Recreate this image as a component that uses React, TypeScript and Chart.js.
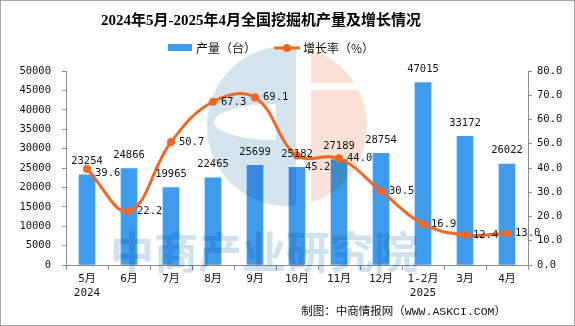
import { useEffect, useRef } from 'react';
import Chart from 'chart.js/auto';

const categories: (string | string[])[] = [['5月', '2024'], '6月', '7月', '8月', '9月', '10月', '11月', '12月', ['1-2月', '2025'], '3月', '4月'];
const output = [23254, 24866, 19965, 22465, 25699, 25182, 27189, 28754, 47015, 33172, 26022];
const growth = [39.6, 22.2, 50.7, 67.3, 69.1, 45.2, 44.0, 30.5, 16.9, 12.4, 13.0];
const leftMax = 50000;
const leftStep = 5000;
const rightMax = 80;
const rightStep = 10;

const TITLE = '2024年5月-2025年4月全国挖掘机产量及增长情况';
const SERIES_BAR = '产量（台）';
const SERIES_LINE = '增长率（%）';
const SOURCE = '制图：中商情报网（WWW.ASKCI.COM）';
const WATERMARK = '中商产业研究院';

const BAR_COLOR = '#3e9cee';
const LINE_COLOR = '#f4661f';
const AXIS_COLOR = '#8c8c8c';
const TEXT_COLOR = '#111111';
const MONO = '"DejaVu Sans Mono", "Noto Sans CJK SC", sans-serif';
const CJK = '"Noto Sans CJK SC", sans-serif';

function drawWatermark(ctx: CanvasRenderingContext2D) {
  ctx.save();
  ctx.globalCompositeOperation = 'multiply';
  const cx = 287, cy = 126, r = 80;
  // blue "C"
  ctx.save();
  ctx.beginPath();
  ctx.rect(0, 0, 296, 326);
  ctx.clip();
  ctx.beginPath();
  ctx.arc(cx, cy, r, 0, Math.PI * 2);
  ctx.moveTo(276, 104);
  ctx.ellipse(276, 122, 62, 18, 0, -Math.PI / 2, Math.PI / 2, true);
  ctx.closePath();
  ctx.fillStyle = '#d4e4ef';
  ctx.fill('evenodd');
  ctx.restore();
  // salmon half
  ctx.save();
  ctx.beginPath();
  ctx.arc(cx, cy, r, 0, Math.PI * 2);
  ctx.clip();
  ctx.fillStyle = '#fbe1d6';
  ctx.fillRect(311, 40, 70, 43);
  ctx.fillRect(311, 90, 70, 130);
  ctx.restore();
  // text
  ctx.font = `bold 44px ${CJK}`;
  ctx.fillStyle = '#cfe0ee';
  ctx.textAlign = 'left';
  ctx.textBaseline = 'middle';
  ctx.fillText(WATERMARK, 110, 252);
  ctx.restore();
}

const decorPlugin = {
  id: 'decor',
  beforeDraw(chart: any) {
    const ctx = chart.ctx as CanvasRenderingContext2D;
    ctx.save();
    ctx.fillStyle = '#ffffff';
    ctx.fillRect(0, 0, chart.width, chart.height);
    ctx.restore();
  },
  afterDatasetDraw(chart: any, args: any) {
    if (args.index === 0) drawWatermark(chart.ctx);
  },
  afterDatasetsDraw(chart: any) {
    const ctx = chart.ctx as CanvasRenderingContext2D;
    ctx.save();
    ctx.fillStyle = TEXT_COLOR;
    ctx.font = `10.5px ${MONO}`;
    const barMeta = chart.getDatasetMeta(0);
    ctx.textAlign = 'center';
    ctx.textBaseline = 'middle';
    barMeta.data.forEach((el: any, i: number) => {
      ctx.fillText(String(output[i]), el.x, el.y - 13.5);
    });
    const lineMeta = chart.getDatasetMeta(1);
    ctx.textAlign = 'left';
    const nudge: Record<number, number> = { 0: 4, 5: 12 };
    lineMeta.data.forEach((el: any, i: number) => {
      ctx.fillText(growth[i].toFixed(1), el.x + 8, el.y + (nudge[i] || 0));
    });
    ctx.restore();
  },
  afterDraw(chart: any) {
    const ctx = chart.ctx as CanvasRenderingContext2D;
    ctx.save();
    // title
    ctx.fillStyle = '#000';
    ctx.font = `bold 15px "Liberation Serif", ${CJK}`;
    ctx.textAlign = 'center';
    ctx.textBaseline = 'middle';
    ctx.fillText(TITLE, 261, 21);
    // legend
    ctx.fillStyle = BAR_COLOR;
    ctx.fillRect(168, 44, 24, 7);
    ctx.fillStyle = TEXT_COLOR;
    ctx.font = `12px ${CJK}`;
    ctx.textAlign = 'left';
    ctx.fillText(SERIES_BAR, 196, 48);
    ctx.strokeStyle = LINE_COLOR;
    ctx.lineWidth = 3;
    ctx.beginPath();
    ctx.moveTo(274, 48);
    ctx.lineTo(300, 48);
    ctx.stroke();
    ctx.fillStyle = LINE_COLOR;
    ctx.beginPath();
    ctx.arc(287, 48, 4, 0, Math.PI * 2);
    ctx.fill();
    ctx.fillStyle = TEXT_COLOR;
    ctx.fillText(SERIES_LINE, 303, 48);
    // source
    ctx.font = `11.5px "Liberation Mono", ${CJK}`;
    ctx.textAlign = 'right';
    ctx.fillText(SOURCE, 506, 312);
    // border
    ctx.strokeStyle = '#a6a6a6';
    ctx.lineWidth = 1;
    ctx.strokeRect(0.5, 0.5, chart.width - 1, chart.height - 1);
    ctx.restore();
  },
};

export default function App() {
  const ref = useRef<HTMLCanvasElement>(null);
  useEffect(() => {
    if (!ref.current) return;
    const tickFont = { family: MONO, size: 10.5 };
    const chart = new Chart(ref.current, {
      type: 'bar',
      data: {
        labels: categories as any,
        datasets: [
          {
            type: 'bar',
            label: SERIES_BAR,
            data: output,
            backgroundColor: BAR_COLOR,
            barThickness: 16,
            yAxisID: 'y',
            order: 1,
          } as any,
          {
            type: 'line',
            label: SERIES_LINE,
            data: growth,
            borderColor: LINE_COLOR,
            backgroundColor: LINE_COLOR,
            borderWidth: 3,
            pointRadius: 4,
            pointBorderWidth: 0,
            pointBackgroundColor: LINE_COLOR,
            tension: 0.4,
            yAxisID: 'y1',
            order: 0,
          } as any,
        ],
      },
      options: {
        responsive: false,
        animation: false,
        devicePixelRatio: 1,
        events: [],
        layout: { padding: { top: 71, left: 0, right: 0, bottom: 0 } },
        plugins: { legend: { display: false }, tooltip: { enabled: false }, title: { display: false } },
        scales: {
          x: {
            grid: { drawOnChartArea: false, drawTicks: true, tickLength: 5, color: AXIS_COLOR, offset: true },
            border: { color: AXIS_COLOR },
            ticks: { font: { family: MONO, size: 11, lineHeight: 1.2 }, color: TEXT_COLOR, padding: 3, maxRotation: 0, autoSkip: false },
            afterFit: (s: any) => { s.height = 61; },
          },
          y: {
            position: 'left',
            min: 0,
            max: leftMax,
            grid: { drawOnChartArea: false, drawTicks: true, tickLength: 4, color: AXIS_COLOR },
            border: { color: AXIS_COLOR },
            ticks: { stepSize: leftStep, font: tickFont, color: TEXT_COLOR, padding: 11, callback: (v: any) => String(v) },
            afterFit: (s: any) => { s.width = 66; },
          },
          y1: {
            position: 'right',
            min: 0,
            max: rightMax,
            grid: { drawOnChartArea: false, drawTicks: true, tickLength: 4, color: AXIS_COLOR },
            border: { color: AXIS_COLOR },
            ticks: { stepSize: rightStep, font: tickFont, color: TEXT_COLOR, padding: 5, callback: (v: any) => Number(v).toFixed(1) },
            afterFit: (s: any) => { s.width = 47; },
          },
        },
      } as any,
      plugins: [decorPlugin],
    });
    return () => chart.destroy();
  }, []);
  return (
    <div style={{ position: 'fixed', left: 0, top: 0, width: 575, height: 326 }}>
      <canvas ref={ref} width={575} height={326} style={{ display: 'block', width: 575, height: 326 }} />
    </div>
  );
}
